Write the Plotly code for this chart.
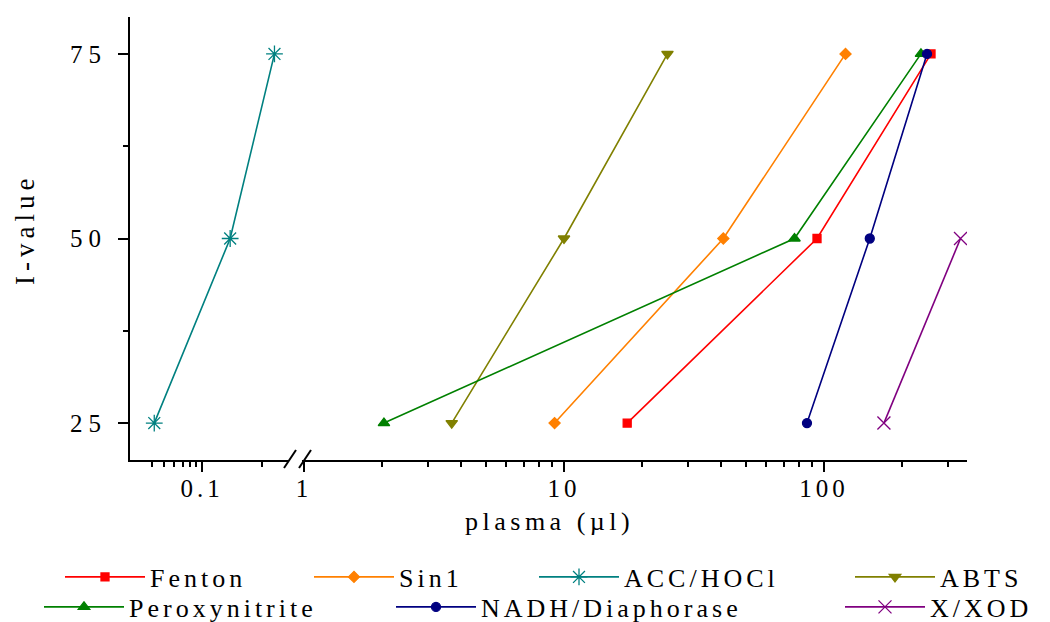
import plotly.graph_objects as go

# ---------------- data ----------------
i_values = [25, 50, 75]
fenton = [17.5, 94, 258]
sin1 = [9.2, 41, 121]
acc_hocl = [0.0415, 0.168, 0.38]
abts = [3.7, 10.0, 25.0]
peroxynitrite = [2.03, 77, 236]
nadh = [86, 150, 249]
xxod_i = [25, 50]
xxod = [170, 335]

names = ["Fenton", "Sin1", "ACC/HOCl", "ABTS", "Peroxynitrite", "NADH/Diaphorase", "X/XOD"]
colors = ["#FF0000", "#FF8000", "#008080", "#808000", "#008000", "#000080", "#800080"]

# ---------------- geometry helpers ----------------
W, H = 1050, 622
ML, MR, MT, MB = 130, 50, 17, 162
PW, PH = W - ML - MR, H - MT - MB
def px(xp):
    return (xp - ML) / PW
def py(yp):
    return (MT + PH - yp) / PH

FONT = "Liberation Serif"
def sp(t, ls):
    return '<span style="letter-spacing:%spx">%s</span>' % (ls, t)

fig = go.Figure()

series = [
    (i_values, fenton, "square", 8, "x2"),
    (i_values, sin1, "diamond", 8.5, "x2"),
    (i_values, acc_hocl, "asterisk-open", 14, "x"),
    (i_values, abts, "triangle-down", 10, "x2"),
    (i_values, peroxynitrite, "triangle-up", 10, "x2"),
    (i_values, nadh, "circle", 9, "x2"),
    (xxod_i, xxod, "x-thin-open", 13, "x2"),
]
legend_pos = [  # (marker centre px, row)
    (103, 0), (352, 0), (577, 0), (893, 0), (82, 1), (434, 1), (883, 1)
]
row_y = [577, 607]

for k, (yy, xx, sym, sz, xa) in enumerate(series):
    lg = "legend" if k == 0 else "legend%d" % (k + 1)
    fig.add_trace(go.Scatter(
        x=xx, y=yy, xaxis=xa, yaxis="y", mode="lines+markers",
        name=sp(names[k], 4), legend=lg,
        line=dict(color=colors[k], width=1.6),
        marker=dict(symbol=sym, size=sz, color=colors[k],
                    line=dict(color=colors[k], width=1.3)),
    ))

legend_layout = {}
for k, (mx, row) in enumerate(legend_pos):
    key = "legend" if k == 0 else "legend%d" % (k + 1)
    legend_layout[key] = dict(
        x=px(mx - 43), xanchor="left", y=py(row_y[row]), yanchor="middle",
        bgcolor="rgba(0,0,0,0)", font=dict(family=FONT, size=26, color="#000"),
        itemwidth=80, orientation="h",
    )

axis_common = dict(
    type="log", showline=True, linewidth=2, linecolor="#000", showgrid=False,
    zeroline=False, ticks="outside", ticklen=10, tickwidth=1.5, tickcolor="#000",
    tickfont=dict(family=FONT, size=25, color="#000"), anchor="y",
    ticklabelstandoff=-5,
)

left_lo = -1 - (202 - ML) / 125.0
left_hi = -1 + (289 - 202) / 125.0
main_lo = -(304 - 302) / 260.0
main_hi = (967 - 304) / 260.0

fig.update_layout(
    width=W, height=H, margin=dict(l=ML, r=MR, t=MT, b=MB, autoexpand=False),
    paper_bgcolor="white", plot_bgcolor="white",
    xaxis=dict(axis_common, domain=[0, px(289)], range=[left_lo, left_hi],
               tickvals=[0.1], ticktext=[sp("0.1", 4)],
               minor=dict(tickvals=[0.04, 0.05, 0.06, 0.07, 0.08, 0.09, 0.3],
                          ticklen=5, tickwidth=1.5, tickcolor="#000", ticks="outside")),
    xaxis2=dict(axis_common, domain=[px(302), px(967)], range=[main_lo, main_hi],
                tickvals=[1, 10, 100], ticktext=[sp("1", 4), sp("10", 4), sp("100", 4)],
                minor=dict(tickvals=[2, 3, 4, 5, 6, 7, 8, 9, 20, 30, 40, 50, 60, 70, 80, 90, 200, 300],
                           ticklen=5, tickwidth=1.5, tickcolor="#000", ticks="outside")),
    yaxis=dict(range=[20, 80], showline=True, linewidth=2, linecolor="#000",
               showgrid=False, zeroline=False, ticks="outside", ticklen=10,
               tickwidth=1.5, tickcolor="#000", anchor="x",
               tickvals=[25, 50, 75], ticktext=[sp(str(v), 6) for v in [25, 50, 75]],
               tickfont=dict(family=FONT, size=25, color="#000"), ticklabelstandoff=6,
               minor=dict(tickvals=[37.5, 62.5], ticklen=5, tickwidth=1.5,
                          tickcolor="#000", ticks="outside")),
    showlegend=True,
    **legend_layout,
)

# axis titles
fig.add_annotation(x=px(549), y=py(521), xref="paper", yref="paper",
                   text=sp("plasma (µl)", 4.5), showarrow=False,
                   font=dict(family=FONT, size=26, color="#000"),
                   xanchor="center", yanchor="middle")
fig.add_annotation(x=px(25), y=py(230), xref="paper", yref="paper",
                   text=sp("I-value", 5), showarrow=False, textangle=-90,
                   font=dict(family=FONT, size=27, color="#000"),
                   xanchor="center", yanchor="middle")

# axis break marks
for x0 in (284, 299):
    fig.add_shape(type="line", xref="paper", yref="paper",
                  x0=px(x0), y0=py(468), x1=px(x0 + 12), y1=py(450),
                  line=dict(color="#000", width=2))

fig.write_html("out.html")
